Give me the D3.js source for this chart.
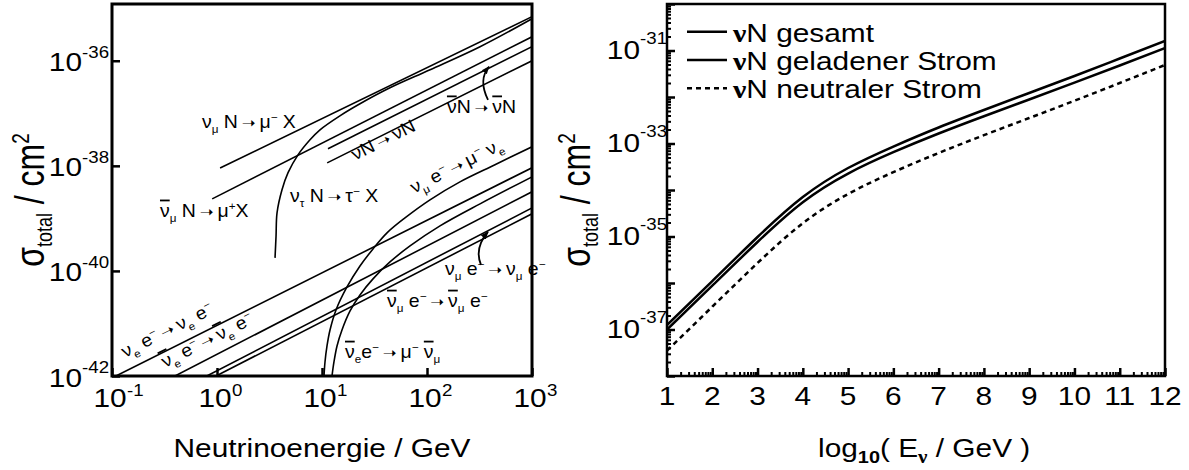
<!DOCTYPE html>
<html>
<head>
<meta charset="utf-8">
<script src="https://cdn.jsdelivr.net/npm/d3@7"></script>
<style>
  body { margin: 0; background: #fff; }
  text { font-family: "Liberation Sans", Arial, sans-serif; fill: #000; }
</style>
</head>
<body>
<svg id="chart" width="1189" height="470"></svg>
<script>
// ---------- left panel: straight-line processes (endpoints) ----------
const lineProcs = ['nuMuN', 'antiNuMuN', 'nuN', 'antiNuN', 'nueE', 'antiNueE', 'nuMuE', 'antiNuMuE'];
const lineE0    = [1.07, 0.90, 11.4, 11.2, 0.109, 0.398, 0.80, 0.98];
const lineE1    = [1000, 1000, 1000, 1000, 1000, 1000, 1000, 1000];
const lineSig0  = [9.1e-39, 2.35e-39, 2.11e-38, 1.14e-38, 1e-42, 1e-42, 1e-42, 1e-42];
const lineSig1  = [6.9e-36, 2.86e-36, 1.85e-36, 1.0e-36, 9.2e-39, 3.2e-39, 1.58e-39, 1.22e-39];

// threshold curves
const tauE   = [3.57, 3.65, 3.73, 4.16, 4.75, 5.91, 7.69, 9.57, 14.8, 23.0, 44.4, 107, 320, 1000];
const tauSig = [1.77e-40, 4.6e-40, 1.27e-39, 3.5e-39, 7.4e-39, 1.62e-38, 3.13e-38, 4.85e-38, 8.95e-38, 1.52e-37, 3.06e-37, 6.75e-37, 1.85e-36, 6.3e-36];
const invMuE   = [10.45, 10.68, 11.16, 11.92, 13.6, 17.3, 23.0, 30.6, 41.6, 61.7, 106.8, 206, 444, 1000];
const invMuSig = [1e-42, 1.85e-42, 3.73e-42, 7.52e-42, 1.81e-41, 4.95e-41, 1.24e-40, 2.62e-40, 5.3e-40, 1.02e-39, 2.25e-39, 4.95e-39, 1.05e-38, 2.30e-38];
const aeMuE   = [12.45, 13.0, 13.9, 15.5, 18.5, 23.0, 30.6, 44.4, 68.9, 133, 320, 1000];
const aeMuSig = [1e-42, 1.85e-42, 3.73e-42, 7.52e-42, 1.73e-41, 3.49e-41, 7.05e-41, 1.48e-40, 2.99e-40, 7.2e-40, 1.89e-39, 6.17e-39];

const leftXTickExp = [-1, 0, 1, 2, 3];
const leftYTickExp = [-42, -40, -38, -36];

// ---------- right panel ----------
const logEnergy = [1, 2, 3, 4, 5, 6, 7, 8, 9, 10, 11, 12];
const sigTotal = [1.25e-37, 1.10e-36, 9.75e-36, 7.06e-35, 2.97e-34, 8.6e-34, 2.21e-33, 5.25e-33, 1.22e-32, 2.83e-32, 6.73e-32, 1.60e-31];
const sigCC    = [1.0e-37, 8.75e-37, 7.62e-36, 5.46e-35, 2.26e-34, 6.5e-34, 1.64e-33, 3.86e-33, 8.83e-33, 2.03e-32, 4.75e-32, 1.13e-31];
const sigNC    = [3.53e-38, 3.09e-37, 2.69e-36, 1.93e-35, 8.2e-35, 2.42e-34, 6.25e-34, 1.51e-33, 3.53e-33, 8.32e-33, 2.0e-32, 4.88e-32];
const rightYTickExp = [-37, -35, -33, -31];
const legendLabels = ['N gesamt', 'N geladener Strom', 'N neutraler Strom'];

// ---------- layout ----------
const svg = d3.select('#chart');
const L = { x0: 112, x1: 532, y0: 4, y1: 376 };
const R = { x0: 667, x1: 1165, y0: 4, y1: 376 };
const SX = 1.17;   // the original lettering is a bit wider than Arial

const xL = d3.scaleLog().domain([0.1, 1000]).range([L.x0, L.x1]);
const yL = d3.scaleLog().domain([1e-42, Math.pow(10, -34.92)]).range([L.y1, L.y0]);
const xR = d3.scaleLinear().domain([1, 12]).range([R.x0, R.x1]);
const yR = d3.scaleLog().domain([1e-38, 1e-30]).range([R.y1, R.y0]);

const defs = svg.append('defs');
defs.append('clipPath').attr('id', 'clipL').append('rect')
    .attr('x', L.x0).attr('y', L.y0).attr('width', L.x1 - L.x0).attr('height', L.y1 - L.y0);
defs.append('clipPath').attr('id', 'clipR').append('rect')
    .attr('x', R.x0).attr('y', R.y0).attr('width', R.x1 - R.x0).attr('height', R.y1 - R.y0);
defs.append('marker').attr('id', 'head').attr('viewBox', '0 0 10 10')
    .attr('refX', 9).attr('refY', 5).attr('markerWidth', 8).attr('markerHeight', 8)
    .attr('orient', 'auto').attr('markerUnits', 'userSpaceOnUse')
    .append('path').attr('d', 'M0,1 L10,5 L0,9 z').attr('fill', '#000');

// plain text, widened a little
function txt(parent, x, y, size, anchor, sx) {
    return parent.append('text')
        .attr('transform', `translate(${x},${y}) scale(${sx || SX},1)`)
        .attr('text-anchor', anchor || 'start')
        .style('font-size', size + 'px');
}

// text with _{sub} ^{sup} !{overlined} @{arrow glyph}
function richText(t, str, size) {
    const re = /([_^!@])\{([^}]*)\}|([^_^!@]+)/g;
    let m, shift = 0;
    while ((m = re.exec(str)) !== null) {
        const kind = m[1] || '';
        const s = m[1] ? m[2] : m[3];
        const target = kind === '_' ? size * 0.3 : kind === '^' ? -size * 0.4 : 0;
        const ts = t.append('tspan').attr('dy', target - shift).text(s);
        if (kind === '_' || kind === '^') ts.style('font-size', (size * 0.6) + 'px');
        if (kind === '!') ts.style('text-decoration', 'overline');
        if (kind === '@') ts.style('font-family', '"DejaVu Sans", sans-serif').style('font-size', (size * 0.85) + 'px');
        shift = target;
    }
    return t;
}

function styleTicks(sel, w) {
    sel.select('.domain').remove();
    sel.selectAll('line').attr('stroke', '#000').attr('stroke-width', w);
    sel.selectAll('text').remove();
}

function sigmaTitle(parent, x, y) {
    const t = parent.append('text')
        .attr('transform', `translate(${x},${y}) rotate(-90) scale(1,1.25)`)
        .attr('text-anchor', 'middle').style('font-size', '32px');
    t.append('tspan').text('σ');
    t.append('tspan').attr('dy', 6).style('font-size', '18px').text('total');
    t.append('tspan').attr('dy', -6).text(' / cm');
    t.append('tspan').attr('dy', -12).style('font-size', '19px').text('2');
}

// ================= LEFT PANEL =================
const gL = svg.append('g');
const plotL = gL.append('g').attr('clip-path', 'url(#clipL)');

const logLine = d3.line().x(d => xL(d[0])).y(d => yL(d[1]));
lineProcs.forEach((p, i) => {
    plotL.append('path')
        .attr('d', logLine([[lineE0[i], lineSig0[i]], [lineE1[i], lineSig1[i]]]))
        .attr('fill', 'none').attr('stroke', '#000').attr('stroke-width', 1.6);
});

const curveLine = d3.line().x(d => xL(d[0])).y(d => yL(d[1])).curve(d3.curveCatmullRom.alpha(0.5));
[[tauE, tauSig], [invMuE, invMuSig], [aeMuE, aeMuSig]].forEach(([es, ss]) => {
    plotL.append('path')
        .attr('d', curveLine(es.map((e, i) => [e, ss[i]])))
        .attr('fill', 'none').attr('stroke', '#000').attr('stroke-width', 1.6);
});

gL.append('g').attr('transform', `translate(${L.x0},0)`)
    .call(d3.axisLeft(yL).tickValues(leftYTickExp.map(e => Math.pow(10, e))).tickSize(-8))
    .call(s => styleTicks(s, 2.5));
gL.append('g').attr('transform', `translate(0,${L.y1})`)
    .call(d3.axisBottom(xL).tickValues(leftXTickExp.map(e => Math.pow(10, e))).tickSize(-8))
    .call(s => styleTicks(s, 2.5));

gL.append('rect').attr('x', L.x0).attr('y', L.y0).attr('width', L.x1 - L.x0).attr('height', L.y1 - L.y0)
    .attr('fill', 'none').attr('stroke', '#000').attr('stroke-width', 3);

leftYTickExp.forEach(e => {
    const y = yL(Math.pow(10, e));
    txt(gL, L.x0 - 30, y + 10.5, 25.5, 'end').text('10');
    txt(gL, L.x0 - 30, y - 3, 16).text(String(e));
});
leftXTickExp.forEach(e => {
    const x = xL(Math.pow(10, e));
    txt(gL, x - 2, L.y1 + 31, 25.5, 'middle').text('10');
    txt(gL, x + 15, L.y1 + 20, 16).text(String(e));
});

txt(gL, (L.x0 + L.x1) / 2, 457, 25.5, 'middle').text('Neutrinoenergie / GeV');
sigmaTitle(gL, 44, 200);

// process labels: position given as [log10 E, log10 sigma]
const P = (le, ls) => [xL(Math.pow(10, le)), yL(Math.pow(10, ls))];
const ARW = '\u2009@{➝}\u2009';
const labels = [
    { at: [-0.143, -37.276], s: 'ν_{μ} N' + ARW + 'μ^{−} X' },
    { at: [-0.543, -38.971], s: '!{ν}_{μ} N' + ARW + 'μ^{+}X' },
    { at: [0.695, -38.686], s: 'ν_{τ} N' + ARW + 'τ^{−} X' },
    { at: [1.314, -37.905], s: 'νN' + ARW + 'νN', rot: true },
    { at: [2.190, -36.990], s: '!{ν}N' + ARW + '!{ν}N' },
    { at: [1.876, -38.533], s: 'ν_{μ} e^{−}' + ARW + 'μ^{−} ν_{e}', rot: true },
    { at: [-0.876, -41.657], s: 'ν_{e} e^{−}' + ARW + 'ν_{e} e^{−}', rot: true },
    { at: [-0.495, -41.848], s: '!{ν}_{e} e^{−}' + ARW + '!{ν}_{e} e^{−}', rot: true },
    { at: [2.171, -40.076], s: 'ν_{μ} e^{−}' + ARW + 'ν_{μ} e^{−}' },
    { at: [1.619, -40.686], s: '!{ν}_{μ} e^{−}' + ARW + '!{ν}_{μ} e^{−}' },
    { at: [1.219, -41.657], s: '!{ν}_{e}e^{−}' + ARW + 'μ^{−} !{ν}_{μ}' }
];
labels.forEach(l => {
    const [px, py] = P(l.at[0], l.at[1]);
    const t = gL.append('text').style('font-size', '18px')
        .attr('transform', `translate(${px},${py})` + (l.rot ? ' rotate(-26.6)' : '') + ' scale(1.08,1)');
    richText(t, l.s, 18);
});

// curved pointer arrows
const arrows = [
    [[2.581, -36.743], [2.486, -36.362], [2.590, -36.114]],
    [[2.514, -39.886], [2.448, -39.562], [2.581, -39.257]]
];
arrows.forEach(a => {
    const [p0, c, p1] = a.map(d => P(d[0], d[1]));
    gL.append('path').attr('d', `M${p0[0]},${p0[1]} Q${c[0]},${c[1]} ${p1[0]},${p1[1]}`)
        .attr('fill', 'none').attr('stroke', '#000').attr('stroke-width', 1.8)
        .attr('marker-end', 'url(#head)');
});

// ================= RIGHT PANEL =================
const gR = svg.append('g');
const plotR = gR.append('g').attr('clip-path', 'url(#clipR)');

const rLine = d3.line().x(d => xR(d[0])).y(d => yR(d[1])).curve(d3.curveNatural);
[[sigTotal, null], [sigCC, null], [sigNC, '5,4']].forEach(([vals, dash]) => {
    plotR.append('path')
        .attr('d', rLine(logEnergy.map((e, i) => [e, vals[i]])))
        .attr('fill', 'none').attr('stroke', '#000').attr('stroke-width', 2.5)
        .attr('stroke-dasharray', dash);
});

const yMajors = d3.range(-38, -29).map(e => Math.pow(10, e));
const yMinors = [];
d3.range(-38, -30).forEach(e => d3.range(2, 10).forEach(k => yMinors.push(k * Math.pow(10, e))));
const xMinors = [];
d3.range(1, 12).forEach(n => d3.range(2, 10).forEach(k => xMinors.push(n + Math.log10(k))));

gR.append('g').attr('transform', `translate(${R.x0},0)`)
    .call(d3.axisLeft(yR).tickValues(yMinors).tickSize(-4)).call(s => styleTicks(s, 2));
gR.append('g').attr('transform', `translate(${R.x0},0)`)
    .call(d3.axisLeft(yR).tickValues(yMajors).tickSize(-8)).call(s => styleTicks(s, 2.5));
gR.append('g').attr('transform', `translate(0,${R.y1})`)
    .call(d3.axisBottom(xR).tickValues(xMinors).tickSize(-4)).call(s => styleTicks(s, 2));
gR.append('g').attr('transform', `translate(0,${R.y1})`)
    .call(d3.axisBottom(xR).tickValues(logEnergy).tickSize(-8)).call(s => styleTicks(s, 2.5));

gR.append('rect').attr('x', R.x0).attr('y', R.y0).attr('width', R.x1 - R.x0).attr('height', R.y1 - R.y0)
    .attr('fill', 'none').attr('stroke', '#000').attr('stroke-width', 2.5);

rightYTickExp.forEach(e => {
    const y = yR(Math.pow(10, e));
    txt(gR, R.x0 - 27, y + 8.5, 25.5, 'end').text('10');
    txt(gR, R.x0 - 27, y - 7, 16).text(String(e));
});
logEnergy.forEach(v => {
    txt(gR, xR(v), R.y1 + 29, 25.5, 'middle').text(String(v));
});

const xt = txt(gR, 818, 457, 25.5);
xt.append('tspan').text('log');
xt.append('tspan').attr('dy', 6).style('font-size', '17px').style('font-weight', 'bold').text('10');
xt.append('tspan').attr('dy', -6).text('( E');
xt.append('tspan').attr('dy', 6).style('font-size', '18px').style('font-weight', 'bold')
    .style('font-family', '"Liberation Serif", serif').text('ν');
xt.append('tspan').attr('dy', -6).text(' / GeV )');

sigmaTitle(gR, 590, 200);

const legendDash = [null, null, '5,4'];
legendLabels.forEach((lab, i) => {
    const y = 31.7 + i * 28.3;
    gR.append('line').attr('x1', 687).attr('x2', 727).attr('y1', y).attr('y2', y)
        .attr('stroke', '#000').attr('stroke-width', 2.5).attr('stroke-dasharray', legendDash[i]);
    const t = txt(gR, 733, y + 10, 25.5);
    t.append('tspan').style('font-family', '"Liberation Serif", serif').style('font-weight', 'bold').text('ν');
    t.append('tspan').text(lab);
});
</script>
</body>
</html>
